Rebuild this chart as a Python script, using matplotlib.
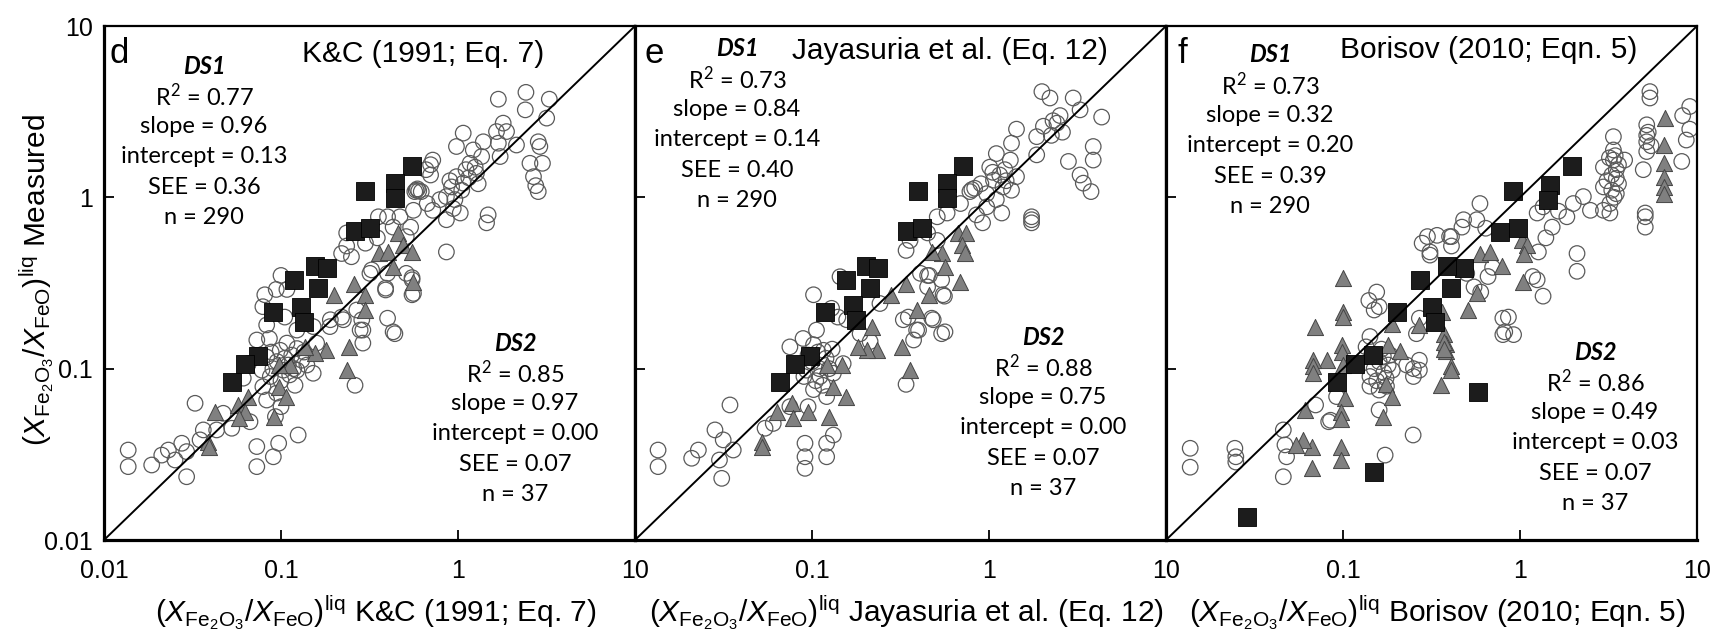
import matplotlib
matplotlib.use("Agg")
import matplotlib.pyplot as plt
from matplotlib.ticker import FixedLocator, NullLocator

plt.rcParams['font.family'] = ['Liberation Sans', 'DejaVu Sans']
plt.rcParams['mathtext.fontset'] = 'custom'
plt.rcParams['mathtext.rm'] = 'Liberation Sans'
plt.rcParams['mathtext.it'] = 'Liberation Sans:italic'
plt.rcParams['mathtext.bf'] = 'Liberation Sans:bold'
plt.rcParams['mathtext.sf'] = 'Lato'

# ---------------------------------------------------------------- data
panel_letters = ['d', 'e', 'f']
model_names = ['K&C (1991; Eq. 7)', 'Jayasuria et al. (Eq. 12)', 'Borisov (2010; Eqn. 5)']

ds1_stats = [(0.77, 0.96, 0.13, 0.36, 290),
             (0.73, 0.84, 0.14, 0.40, 290),
             (0.73, 0.32, 0.20, 0.39, 290)]
ds2_stats = [(0.85, 0.97, 0.00, 0.07, 37),
             (0.88, 0.75, 0.00, 0.07, 37),
             (0.86, 0.49, 0.03, 0.07, 37)]

tick_values = [0.01, 0.1, 1, 10]
tick_labels = ['0.01', '0.1', '1', '10']

# (calculated, measured) pairs -- DS1 (open circles)
d_ds1 = [(1.69, 3.74), (2.42, 4.1), (3.28, 3.74), (2.4, 3.24), (3.17, 2.9), (1.80, 2.71), (1.88, 2.42),
         (1.65, 2.42), (2.14, 2.02), (2.84, 2.11), (2.9, 1.98), (2.55, 1.58), (3.0, 1.58), (2.67, 1.32),
         (2.75, 1.17), (2.84, 1.08), (1.73, 1.73), (1.69, 2.07), (1.39, 2.11), (1.07, 2.37), (0.98, 1.98),
         (1.22, 1.89), (1.36, 1.73), (1.17, 1.58), (1.11, 1.45), (1.27, 1.38), (0.98, 1.32), (1.07, 1.21),
         (0.92, 1.15), (0.86, 1.01), (0.96, 0.97), (0.79, 0.97), (0.94, 0.86), (1.03, 0.81), (0.86, 0.74),
         (0.70, 1.55), (0.70, 1.35), (0.58, 1.10), (0.60, 1.09), (0.62, 1.08), (0.59, 1.12), (0.57, 1.08),
         (0.67, 0.92), (0.72, 0.84), (0.56, 0.84), (0.47, 0.77), (0.40, 0.77), (0.355, 0.77), (0.43, 0.67),
         (0.54, 0.67), (0.51, 0.59), (0.35, 0.58), (0.30, 0.54), (0.235, 0.62), (0.235, 0.52), (0.25, 0.45),
         (0.325, 0.377), (0.40, 0.36), (0.39, 0.288), (0.51, 0.36), (0.56, 0.275), (0.55, 0.33), (0.86, 0.48),
         (1.48, 0.79), (1.45, 0.71), (0.40, 0.197), (0.286, 0.193), (0.22, 0.20), (0.28, 0.168), (0.44, 0.16),
         (0.19, 0.193), (0.22, 0.47), (1.15, 1.3), (1.25, 1.5), (1.05, 1.1), (1.3, 1.2), (0.9, 1.25),
         (0.66, 1.45), (0.72, 1.65),
         (0.10, 0.35), (0.081, 0.27), (0.083, 0.18), (0.086, 0.15), (0.108, 0.29), (0.105, 0.20),
         (0.123, 0.168), (0.108, 0.141), (0.123, 0.131), (0.099, 0.128), (0.083, 0.117), (0.078, 0.098),
         (0.087, 0.090), (0.103, 0.098), (0.123, 0.098), (0.131, 0.112), (0.152, 0.094), (0.079, 0.0785),
         (0.0945, 0.072), (0.083, 0.0656), (0.10, 0.06), (0.093, 0.0525), (0.159, 0.141), (0.152, 0.176),
         (0.189, 0.176), (0.225, 0.193), (0.268, 0.22), (0.29, 0.168), (0.29, 0.141), (0.43, 0.164),
         (0.55, 0.27), (0.55, 0.34), (0.318, 0.36), (0.39, 0.295), (0.262, 0.080), (0.094, 0.29),
         (0.079, 0.23), (0.073, 0.147), (0.0654, 0.107), (0.0612, 0.088), (0.0327, 0.0628), (0.0472, 0.0549),
         (0.0527, 0.0449), (0.0668, 0.049), (0.0433, 0.0439), (0.0364, 0.0439), (0.0349, 0.0384),
         (0.0275, 0.0367), (0.0293, 0.0328), (0.0231, 0.0335), (0.0212, 0.0313), (0.0186, 0.0274),
         (0.0137, 0.0335), (0.0137, 0.0268), (0.0293, 0.0234), (0.0252, 0.0293), (0.073, 0.0351),
         (0.097, 0.0367), (0.125, 0.041), (0.0905, 0.0306), (0.073, 0.0268),
         (0.095, 0.11), (0.11, 0.105), (0.115, 0.12), (0.09, 0.1), (0.1, 0.085), (0.112, 0.092),
         (0.12, 0.08), (0.105, 0.115), (0.088, 0.125), (0.118, 0.1), (0.135, 0.125), (0.14, 0.105)]

e_ds1 = [(1.99, 4.14), (2.21, 3.8), (2.99, 3.8), (3.27, 3.24), (4.33, 2.94), (2.52, 3.0), (2.42, 2.71),
         (2.03, 2.6), (1.86, 2.26), (2.25, 2.3), (1.43, 2.5), (1.34, 2.07), (1.86, 1.77), (3.88, 1.98),
         (3.88, 1.65), (2.81, 1.62), (3.27, 1.35), (3.41, 1.21), (3.77, 1.08), (1.74, 0.77), (1.74, 0.71),
         (1.74, 0.74), (1.32, 1.65), (1.10, 1.8), (1.01, 1.5), (1.23, 1.45), (1.43, 1.32), (1.06, 1.26),
         (1.20, 1.15), (1.34, 1.10), (0.97, 1.05), (1.10, 0.97), (0.83, 1.13), (0.80, 1.11), (0.78, 1.08),
         (0.97, 0.88), (1.18, 0.81), (0.85, 0.79), (0.92, 0.71), (0.69, 0.92), (0.58, 0.81), (0.51, 0.77),
         (0.45, 0.62), (0.51, 0.56), (0.358, 0.56), (0.34, 0.49), (0.41, 0.36), (0.46, 0.35), (0.54, 0.33),
         (0.56, 0.265), (0.45, 0.30), (0.35, 0.20), (0.475, 0.197), (0.40, 0.168), (0.564, 0.164),
         (1.15, 1.35), (1.25, 1.25), (0.9, 1.2), (1.05, 1.4), (2.6, 2.4), (2.3, 2.8),
         (0.102, 0.27), (0.144, 0.344), (0.129, 0.225), (0.106, 0.168), (0.089, 0.15), (0.075, 0.134),
         (0.102, 0.138), (0.116, 0.128), (0.093, 0.098), (0.111, 0.09), (0.132, 0.094), (0.15, 0.107),
         (0.102, 0.0755), (0.121, 0.0687), (0.095, 0.06), (0.157, 0.193), (0.187, 0.16), (0.213, 0.144),
         (0.242, 0.24), (0.328, 0.193), (0.39, 0.168), (0.375, 0.147), (0.484, 0.193), (0.54, 0.16),
         (0.55, 0.27), (0.45, 0.35), (0.34, 0.081), (0.0344, 0.0614), (0.0283, 0.0439), (0.0315, 0.0384),
         (0.0359, 0.0335), (0.0228, 0.0335), (0.0209, 0.030), (0.0135, 0.0335), (0.0135, 0.0268),
         (0.030, 0.0293), (0.0309, 0.0229), (0.0543, 0.0449), (0.0604, 0.0479), (0.0913, 0.0367),
         (0.121, 0.0367), (0.132, 0.041), (0.0913, 0.0306), (0.121, 0.0306), (0.0913, 0.0262),
         (0.075, 0.06), (0.14, 0.2),
         (0.1, 0.11), (0.11, 0.1), (0.12, 0.115), (0.095, 0.12), (0.105, 0.085), (0.115, 0.08),
         (0.125, 0.1), (0.09, 0.09), (0.108, 0.125), (0.13, 0.13)]

f_ds1 = [(5.42, 4.14), (5.42, 3.8), (9.1, 3.39), (8.3, 3.0), (8.7, 2.16), (8.2, 1.62), (5.2, 2.65),
         (5.2, 2.3), (5.2, 2.11), (5.2, 1.85), (4.97, 1.45), (5.1, 0.81), (5.1, 0.77), (5.1, 0.67),
         (3.37, 2.26), (3.37, 1.89), (3.37, 1.65), (3.5, 1.45), (3.5, 1.29), (3.5, 1.05), (3.22, 0.92),
         (3.22, 0.81), (2.96, 1.5), (2.96, 1.15), (3.9, 1.65), (2.28, 1.01), (2.5, 0.84), (2.0, 0.92),
         (1.84, 0.77), (1.65, 0.83), (1.35, 0.88), (1.25, 0.81), (1.52, 0.67), (1.4, 0.58), (2.1, 0.47),
         (2.1, 0.37), (1.27, 0.48), (1.35, 0.265), (1.25, 0.33), (0.86, 0.20), (0.92, 0.158), (0.80, 0.158),
         (0.594, 0.92), (0.57, 0.74), (0.48, 0.74), (0.47, 0.67), (0.64, 0.66), (0.40, 0.59), (0.34, 0.60),
         (0.28, 0.54), (0.31, 0.48), (0.50, 0.36), (0.66, 0.345), (0.70, 0.39), (1.18, 0.345), (0.41, 0.52),
         (0.155, 0.28), (0.16, 0.23), (0.26, 0.16), (0.27, 0.112), (0.25, 0.10), (2.96, 0.84), (9.1, 2.5),
         (3.2, 1.7), (3.45, 1.75), (3.3, 1.35), (3.6, 1.2), (3.3, 1.1), (3.1, 1.25), (3.6, 1.55), (3.4, 1.0),
         (5.3, 2.4), (5.5, 2.0), (0.55, 0.3), (0.6, 0.28), (0.14, 0.25), (0.15, 0.22),
         (0.30, 0.59), (0.31, 0.46), (0.41, 0.59), (0.27, 0.197), (0.142, 0.154), (0.135, 0.134),
         (0.169, 0.118), (0.19, 0.098), (0.142, 0.09), (0.142, 0.079), (0.176, 0.079), (0.229, 0.105),
         (0.27, 0.098), (0.25, 0.09), (0.16, 0.0574), (0.249, 0.041), (0.173, 0.0313), (0.80, 0.197),
         (0.82, 0.164), (0.083, 0.049), (0.085, 0.05), (0.07, 0.0614), (0.046, 0.0439), (0.047, 0.0359),
         (0.048, 0.0306), (0.046, 0.0234), (0.0245, 0.0343), (0.0248, 0.0306), (0.0248, 0.0285),
         (0.0137, 0.0343), (0.0137, 0.0266), (0.092, 0.0687),
         (0.15, 0.1), (0.16, 0.11), (0.17, 0.095), (0.155, 0.085), (0.165, 0.13), (0.18, 0.105),
         (0.145, 0.12), (0.175, 0.088), (0.16, 0.075), (0.185, 0.12)]

# DS2 (grey triangles)
d_ds2 = [(0.456, 0.62), (0.49, 0.53), (0.552, 0.48), (0.358, 0.475), (0.404, 0.48), (0.43, 0.39),
         (0.56, 0.32), (0.26, 0.31), (0.20, 0.27), (0.30, 0.27), (0.30, 0.22), (0.243, 0.134), (0.235, 0.098),
         (0.18, 0.129), (0.156, 0.123), (0.137, 0.134), (0.112, 0.105), (0.097, 0.105), (0.097, 0.0785),
         (0.107, 0.0687), (0.0917, 0.0525), (0.0654, 0.0687), (0.0574, 0.0614), (0.0626, 0.0561),
         (0.0424, 0.0561), (0.058, 0.0513), (0.0389, 0.0375), (0.039, 0.035)]
e_ds2 = [(0.67, 0.62), (0.74, 0.62), (0.70, 0.53), (0.73, 0.475), (0.54, 0.475), (0.475, 0.48),
         (0.564, 0.39), (0.69, 0.32), (0.34, 0.31), (0.28, 0.27), (0.458, 0.27), (0.39, 0.22), (0.217, 0.176),
         (0.358, 0.098), (0.321, 0.134), (0.232, 0.128), (0.204, 0.128), (0.183, 0.134), (0.147, 0.105),
         (0.121, 0.105), (0.131, 0.0785), (0.156, 0.0687), (0.125, 0.0525), (0.0953, 0.0561),
         (0.0768, 0.0628), (0.078, 0.0513), (0.0632, 0.0561), (0.052, 0.0375), (0.052, 0.035)]
f_ds2 = [(6.6, 2.9), (6.5, 2.02), (6.5, 1.58), (6.5, 1.32), (6.5, 1.15), (6.5, 1.05), (1.02, 0.56),
         (1.09, 0.53), (1.05, 0.47), (0.594, 0.47), (0.68, 0.48), (0.79, 0.40), (1.04, 0.32), (0.57, 0.275),
         (0.51, 0.22), (0.361, 0.215), (0.37, 0.16), (0.38, 0.14), (0.38, 0.126), (0.41, 0.104), (0.36, 0.08),
         (0.27, 0.18), (0.19, 0.183), (0.0996, 0.337), (0.0996, 0.215), (0.0996, 0.20), (0.0695, 0.176),
         (0.099, 0.138), (0.099, 0.125), (0.081, 0.112), (0.0674, 0.112), (0.0674, 0.103), (0.0674, 0.094),
         (0.10, 0.105), (0.18, 0.138), (0.21, 0.126), (0.176, 0.081), (0.19, 0.0687), (0.169, 0.0525),
         (0.102, 0.067), (0.097, 0.056), (0.097, 0.051), (0.097, 0.0351), (0.097, 0.0293), (0.0665, 0.0262),
         (0.0665, 0.0351), (0.0597, 0.0381), (0.0545, 0.0359), (0.061, 0.0574), (0.37, 0.144),
         (0.37, 0.13), (0.41, 0.098)]

# DS2 (black squares)
d_ds2_sq = [(0.547, 1.52), (0.44, 1.21), (0.30, 1.09), (0.44, 0.99), (0.262, 0.64), (0.318, 0.66),
            (0.156, 0.40), (0.181, 0.386), (0.162, 0.295), (0.119, 0.33), (0.0905, 0.215), (0.13, 0.23),
            (0.135, 0.188), (0.0745, 0.119), (0.0626, 0.107), (0.0527, 0.084)]
e_ds2_sq = [(0.716, 1.52), (0.577, 1.21), (0.395, 1.09), (0.577, 0.99), (0.343, 0.64), (0.417, 0.66),
            (0.202, 0.40), (0.237, 0.386), (0.213, 0.295), (0.155, 0.33), (0.118, 0.215), (0.171, 0.235),
            (0.177, 0.193), (0.0975, 0.119), (0.080, 0.107), (0.066, 0.084)]
f_ds2_sq = [(1.96, 1.52), (1.48, 1.18), (1.44, 0.97), (0.917, 1.09), (0.98, 0.66), (0.77, 0.63),
            (0.48, 0.386), (0.388, 0.40), (0.41, 0.295), (0.272, 0.33), (0.317, 0.23), (0.331, 0.188),
            (0.201, 0.215), (0.58, 0.0735), (0.148, 0.12), (0.117, 0.107), (0.092, 0.084), (0.15, 0.0251),
            (0.0288, 0.01356)]

circles = [d_ds1, e_ds1, f_ds1]
triangles = [d_ds2, e_ds2, f_ds2]
squares = [d_ds2_sq, e_ds2_sq, f_ds2_sq]

# ---------------------------------------------------------------- layout (pixels)
W, H = 1720, 636
AX_LEFT = [104, 635, 1166]
AX_W, AX_TOP, AX_BOT = 531, 26, 540
DS1_POS = [(204, 66), (737, 49), (1270, 55)]
DS2_POS = [(515, 343), (1043, 337), (1595, 352)]
TITLE_POS = [(423, 54), (950, 51), (1489, 50)]
LETTER_POS = [(109, 63), (644, 63), (1178, 63)]
LINE_STEP = 30.3

STAT_FONT = ['Lato', 'DejaVu Sans']


def fx(px):
    return px / W


def fy(py):
    return 1 - py / H


fig = plt.figure(figsize=(W / 100, H / 100), dpi=100)

for i in range(3):
    ax = fig.add_axes([fx(AX_LEFT[i]), fy(AX_BOT), AX_W / W, (AX_BOT - AX_TOP) / H])
    ax.set_xscale('log')
    ax.set_yscale('log')
    lims = (tick_values[0], tick_values[-1])
    ax.set_xlim(*lims)
    ax.set_ylim(*lims)

    cx, cy = zip(*circles[i])
    ax.scatter(cx, cy, s=125, facecolors='none', edgecolors='#5a5a5a', linewidths=0.9, zorder=2)
    tx, ty = zip(*triangles[i])
    ax.scatter(tx, ty, s=135, marker='^', facecolors='#808080', edgecolors='#444444', linewidths=0.7,
               zorder=3)
    sx, sy = zip(*squares[i])
    ax.scatter(sx, sy, s=155, marker='s', facecolors='#1c1c1c', edgecolors='#000000', linewidths=0.6,
               zorder=4)

    ax.plot(lims, lims, color='black', lw=1.4, zorder=5)

    ax.xaxis.set_major_locator(FixedLocator(tick_values))
    ax.yaxis.set_major_locator(FixedLocator(tick_values))
    ax.xaxis.set_minor_locator(NullLocator())
    ax.yaxis.set_minor_locator(NullLocator())
    xl = tick_labels if i == 0 else [''] + tick_labels[1:]
    ax.set_xticklabels(xl)
    ax.set_yticklabels(tick_labels if i == 0 else [''] * 4)
    ax.tick_params(direction='in', length=7, width=1.3, labelsize=18, pad=14)
    ax.tick_params(axis='y', pad=8)

    for side in ['left', 'bottom']:
        ax.spines[side].set_linewidth(2.3)
    for side in ['top', 'right']:
        ax.spines[side].set_linewidth(1.6)

    # panel letter and model name
    lx, ly = LETTER_POS[i]
    fig.text(fx(lx), fy(ly), panel_letters[i], fontsize=25, ha='left', va='baseline')
    tx0, ty0 = TITLE_POS[i]
    fig.text(fx(tx0), fy(ty0), model_names[i], fontsize=21.5, ha='center', va='center')

    # fit statistics
    for (px, py), name, st in [(DS1_POS[i], 'DS1', ds1_stats[i]), (DS2_POS[i], 'DS2', ds2_stats[i])]:
        r2, slope, icpt, see, n = st
        fig.text(fx(px), fy(py), name, fontsize=17, fontweight='bold', fontstyle='italic',
                 family=STAT_FONT, ha='center', va='center')
        lines = [r'$\mathsf{R}^{\mathsf{2}}$' + f' = {r2:.2f}', f'slope = {slope:.2f}',
                 f'intercept = {icpt:.2f}', f'SEE = {see:.2f}', f'n = {n}']
        for k, s in enumerate(lines):
            fig.text(fx(px), fy(py + LINE_STEP * (k + 1)), s, fontsize=17, family=STAT_FONT,
                     ha='center', va='center')

    # x-axis label
    fig.text(fx(AX_LEFT[i] + AX_W / 2 + 6), fy(622),
             r'$(X_{\rm Fe_2O_3}/X_{\rm FeO})^{\rm liq}$ ' + model_names[i],
             fontsize=21.5, ha='center', va='baseline')

fig.text(fx(37), fy(280), r'$(X_{\rm Fe_2O_3}/X_{\rm FeO})^{\rm liq}$ Measured',
         fontsize=21.5, rotation=90, ha='center', va='center')

fig.savefig('out.png', dpi=100)
